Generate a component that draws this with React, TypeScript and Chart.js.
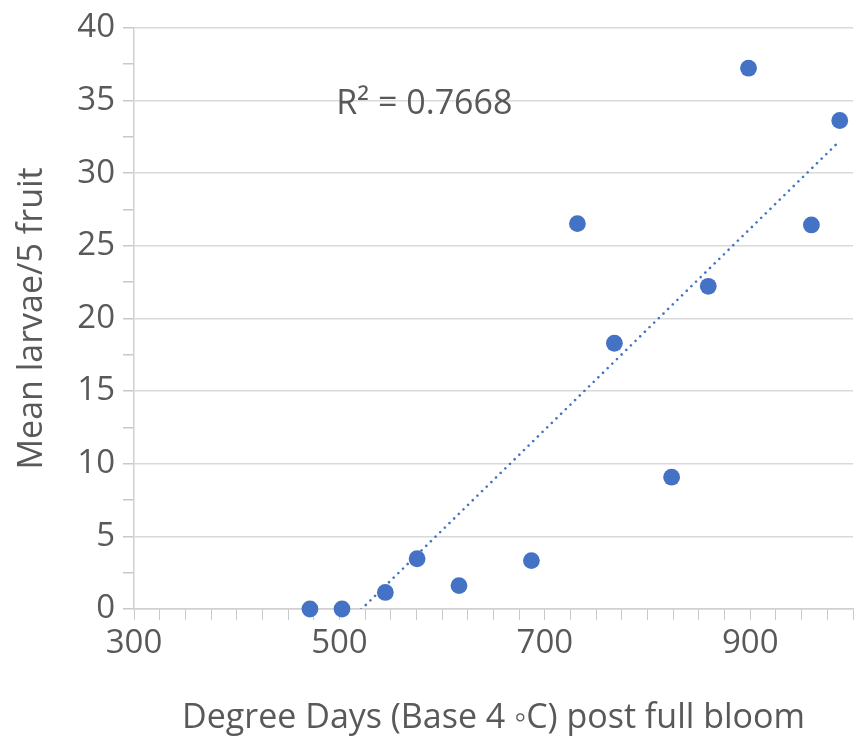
import React, { useEffect, useRef } from "react";
import { Chart, registerables } from "chart.js";

Chart.register(...registerables);

// Data
const degreeDays = [471.3, 502.5, 544.7, 575.6, 616.4, 686.9, 731.7, 767.7, 823.4, 859.1, 898.3, 959.5, 987.1];
const meanLarvae = [0, 0, 1.14, 3.46, 1.61, 3.33, 26.52, 18.29, 9.07, 22.21, 37.22, 26.43, 33.62];
const xTickLabels = [300, 500, 700, 900];
const yTickLabels = [0, 5, 10, 15, 20, 25, 30, 35, 40];
const rSquaredText = "R² = 0.7668";
const xTitle = "Degree Days (Base 4 \u25E6C) post full bloom";
const yTitle = "Mean larvae/5 fruit";

// Label anchor in data coordinates
const rLabelAt = { x: 497, y: 34.7 };

const FONT = "'Open Sans', 'Noto Sans', sans-serif";
const TEXT = "#595959";
const BLUE = "#4472C4";

function linearFit(xs: number[], ys: number[]) {
  const n = xs.length;
  const mx = xs.reduce((a, b) => a + b, 0) / n;
  const my = ys.reduce((a, b) => a + b, 0) / n;
  let sxy = 0;
  let sxx = 0;
  for (let i = 0; i < n; i++) {
    sxy += (xs[i] - mx) * (ys[i] - my);
    sxx += (xs[i] - mx) * (xs[i] - mx);
  }
  const slope = sxy / sxx;
  return { slope, intercept: my - slope * mx };
}

export default function App() {
  const ref = useRef<HTMLCanvasElement | null>(null);

  useEffect(() => {
    document.body.style.margin = "0";
    const canvas = ref.current;
    if (!canvas) return;
    const fit = linearFit(degreeDays, meanLarvae);
    const xMin = Math.min(...degreeDays);
    const xMax = Math.max(...degreeDays);
    const trend = [
      { x: xMin, y: fit.intercept + fit.slope * xMin },
      { x: xMax, y: fit.intercept + fit.slope * xMax },
    ];

    const labelPlugin = {
      id: "rlabel",
      afterDatasetsDraw(chart: any) {
        const { ctx, scales } = chart;
        const px = scales.x.getPixelForValue(rLabelAt.x);
        const py = scales.y.getPixelForValue(rLabelAt.y);
        ctx.save();
        ctx.font = `34px ${FONT}`;
        ctx.fillStyle = TEXT;
        ctx.textAlign = "left";
        ctx.textBaseline = "middle";
        ctx.fillText(rSquaredText, px, py);
        ctx.restore();
      },
    };

    const chart = new Chart(canvas, {
      type: "scatter",
      data: {
        datasets: [
          {
            label: "Trend",
            data: trend,
            showLine: true,
            borderColor: BLUE,
            borderWidth: 2.6,
            borderDash: [0.01, 6.5],
            borderCapStyle: "round",
            pointRadius: 0,
            clip: 0,
          } as any,
          {
            label: "Mean larvae",
            data: degreeDays.map((x, i) => ({ x, y: meanLarvae[i] })),
            backgroundColor: BLUE,
            borderColor: BLUE,
            borderWidth: 0,
            pointRadius: 8.4,
            clip: false,
          } as any,
        ],
      },
      options: {
        animation: false,
        responsive: false,
        maintainAspectRatio: false,
        layout: { autoPadding: false, padding: { top: 25, right: -2, left: 0, bottom: 0 } },
        plugins: {
          legend: { display: false },
          tooltip: { enabled: false },
        },
        scales: {
          x: {
            type: "linear",
            min: 300,
            max: 1000,
            afterFit: (s: any) => {
              s.height = 127;
            },
            ticks: {
              stepSize: 25,
              autoSkip: false,
              maxRotation: 0,
              padding: 4,
              color: TEXT,
              font: { family: FONT, size: 33 },
              callback: (v: any) => (xTickLabels.includes(Number(v)) ? String(v) : ""),
            },
            grid: {
              drawOnChartArea: false,
              drawTicks: true,
              tickLength: 11,
              tickColor: "#c8c8c8",
            },
            border: { color: "#d0d0d0", width: 1.5 },
            title: {
              display: true,
              text: xTitle,
              color: TEXT,
              font: { family: FONT, size: 34 },
              padding: { top: 0, bottom: -3 },
            },
          },
          y: {
            type: "linear",
            min: 0,
            max: 40,
            afterFit: (s: any) => {
              s.width = 134;
            },
            ticks: {
              stepSize: 2.5,
              autoSkip: false,
              padding: 8,
              color: TEXT,
              font: { family: FONT, size: 33 },
              callback: (v: any) => (yTickLabels.includes(Number(v)) ? String(v) : ""),
            },
            grid: {
              drawTicks: true,
              tickLength: 11,
              lineWidth: 1.5,
              color: (c: any) =>
                c.tick && yTickLabels.includes(Number(c.tick.value)) ? "#d9d9d9" : "rgba(0,0,0,0)",
              tickColor: "#c8c8c8",
            },
            border: { color: "#d0d0d0", width: 1.5 },
            title: {
              display: true,
              text: yTitle,
              color: TEXT,
              font: { family: FONT, size: 34 },
              padding: { top: 12, bottom: 0 },
            },
          },
        },
      },
      plugins: [labelPlugin],
    });
    return () => chart.destroy();
  }, []);

  return (
    <div style={{ width: 857, height: 736 }}>
      <canvas ref={ref} width={857} height={736} style={{ display: "block" }} />
    </div>
  );
}
